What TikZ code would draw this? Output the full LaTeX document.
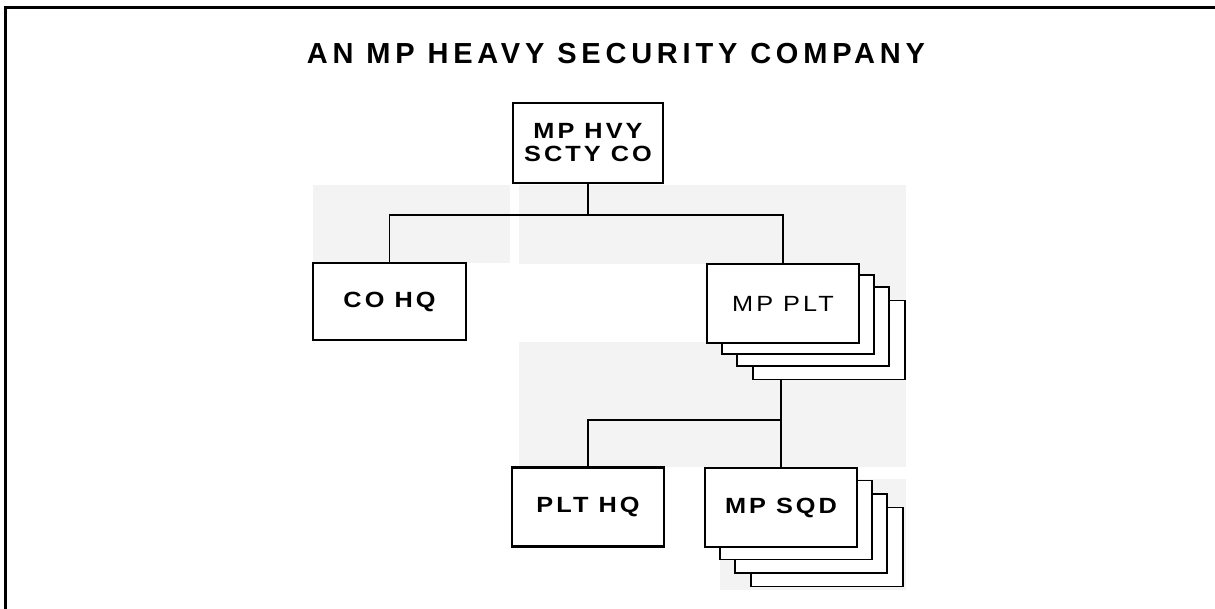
\documentclass[tikz,border=0pt]{standalone}
\usepackage{fontspec}
\setmainfont{Liberation Sans}
\newfontfamily\titlefont[LetterSpace=16.5]{Liberation Sans}
\newfontfamily\boxfont[LetterSpace=12]{Liberation Sans}
\usetikzlibrary{positioning}
\definecolor{scangray}{RGB}{243,243,243}
\newcommand{\wide}[1]{\scalebox{1.15}[1]{#1}}

\begin{document}
\begin{tikzpicture}[x=1pt,y=-1pt,
  unit/.style={draw,line width=1.8pt,fill=white,inner sep=0pt,minimum width=152pt,minimum height=79pt,
    font=\boxfont\bfseries\fontsize{22}{23}\selectfont,align=center},
  heavyunit/.style={unit,line width=2.8pt},
  backunit/.style={unit,line width=1.3pt},
  conn/.style={line width=1.3pt}]
  \useasboundingbox (0,0) rectangle (1215,609);
  % Frame
  \draw[line width=3pt] (5.5,609) -- (5.5,8) -- (1215,8);
  % Scan shading
  \fill[scangray] (313,185) rectangle (510,263);
  \fill[scangray] (519,185) rectangle (906,264);
  \fill[scangray] (722,264) rectangle (906,392);
  \fill[scangray] (519,342) rectangle (906,467);
  \fill[scangray] (720,479) rectangle (906,590);
  % Title
  \node[font=\titlefont\bfseries\fontsize{29}{32}\selectfont,anchor=base] (title) at (616,64) {AN MP HEAVY SECURITY COMPANY};
  % Company
  \node[unit,minimum width=150pt,minimum height=80pt] (hvy) at (588,143) {\wide{MP HVY}\\\wide{SCTY CO}};
  \node[unit,minimum width=153pt,minimum height=77pt] (cohq) at (389.5,301.5) {\wide{CO HQ}};
  % Platoons
  \node[backunit] (plt3) at (829,340) {};
  \node[backunit] (plt2) at (813,326.5) {};
  \node[backunit] (plt1) at (798,314.5) {};
  \node[unit,font=\boxfont\mdseries\fontsize{22}{23}\selectfont] (mpplt) at (783,303.5) {\wide{MP PLT}};
  % Squads
  \node[heavyunit] (plthq) at (588,507) {\wide{PLT HQ}};
  \node[backunit] (sqd3) at (827,547) {};
  \node[backunit] (sqd2) at (811,533.5) {};
  \node[backunit] (sqd1) at (796,520) {};
  \node[heavyunit] (mpsqd) at (781,507.5) {\wide{MP SQD}};
  % Connectors
  \coordinate (bus) at (590,215);
  \coordinate (bus2) at (785,420);
  \draw[conn] (hvy.south) -- (hvy.south |- bus);
  \draw[conn] (cohq.north) |- (mpplt.north |- bus) -- (mpplt.north);
  \draw[conn] (mpsqd.north |- plt3.south) -- (mpsqd.north);
  \draw[conn] (plthq.north) |- (mpsqd.north |- bus2);
\end{tikzpicture}
\end{document}
